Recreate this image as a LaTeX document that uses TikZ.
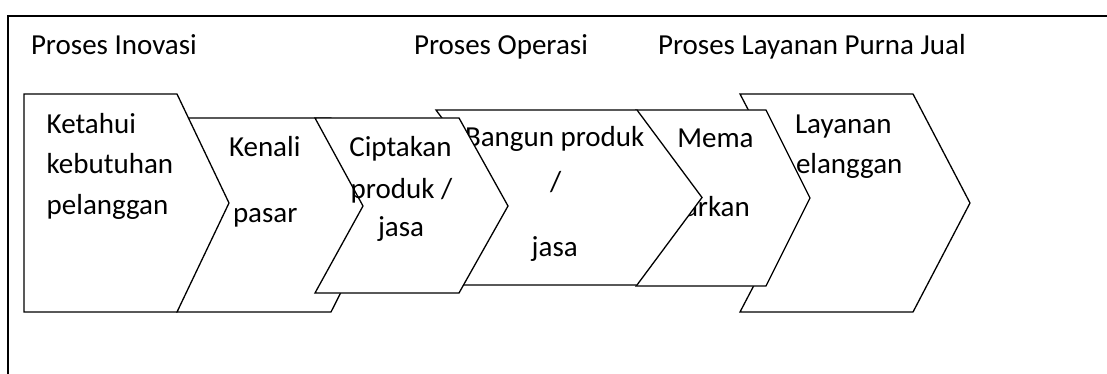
\documentclass[tikz,border=0pt]{standalone}
\usepackage{fontspec}
\setmainfont{Carlito}
\tikzset{
  frameline/.style={line width=2pt, draw=black},
  chev/.style={line width=1.3pt, draw=black, fill=white, line join=miter},
  lbl/.style={anchor=base west, inner sep=0pt, outer sep=0pt, font=\fontsize{29}{34}\selectfont},
}
\begin{document}
\begin{tikzpicture}[x=1pt,y=-1pt]
\useasboundingbox (0,0) rectangle (1107,374);
% frame
\coordinate (fb) at (7.5,374);
\coordinate (ftl) at (7.5,16);
\coordinate (ftr) at (1107,16);
\draw[frameline] (fb) -- (ftl) -- (ftr);
% headers
\node[lbl] (h1) at (31,54.3) {Proses Inovasi};
\node[lbl] (h2) at (414,54.3) {Proses Operasi};
\node[lbl] (h3) at (658,54.3) {Proses Layanan Purna Jual};
% shape 2 (behind)
\filldraw[chev] (177,118) -- (331,118) -- (380,215) -- (331,312) -- (177,312) -- (212,215) -- cycle;
\node[lbl] (t2a) at (229,156.7) {Kenali};
\node[lbl] (t2b) at (233,222.7) {pasar};
% shape 1
\filldraw[chev] (24,94) -- (177,94) -- (229,203) -- (177,312) -- (24,312) -- cycle;
\node[lbl] (t1a) at (46.7,133.3) {Ketahui};
\node[lbl] (t1b) at (46.7,174) {kebutuhan};
\node[lbl] (t1c) at (46.7,214.3) {pelanggan};
% shape 6
\filldraw[chev] (740,94) -- (913,94) -- (970,203) -- (913,312) -- (740,312) -- (797,203) -- cycle;
\node[lbl] (t6a) at (795,133.3) {Layanan};
\node[lbl] (t6b) at (796,173.3) {elanggan};
% shape 5
\filldraw[chev] (636,110) -- (766,110) -- (810,198) -- (766,286) -- (636,286) -- (680,198) -- cycle;
\node[lbl] (t5a) at (677.3,147.7) {Mema};
\node[lbl] (t5b) at (684,216.7) {arkan};
% shape 4
\filldraw[chev] (436,110) -- (637,110) -- (702,197.5) -- (637,285) -- (436,285) -- (501,197.5) -- cycle;
\node[lbl] (t4a) at (465,146.7) {Bangun produk};
\node[lbl] (t4b) at (550,191.7) {/};
\node[lbl] (t4c) at (531.7,256.7) {jasa};
% shape 3
\filldraw[chev] (315,118) -- (459,118) -- (508,206) -- (459,293) -- (315,293) -- (363,206) -- cycle;
\node[lbl] (t3a) at (349.3,156.7) {Ciptakan};
\node[lbl] (t3b) at (350.7,198.3) {produk /};
\node[lbl] (t3c) at (378,236.7) {jasa};
\end{tikzpicture}
\end{document}
